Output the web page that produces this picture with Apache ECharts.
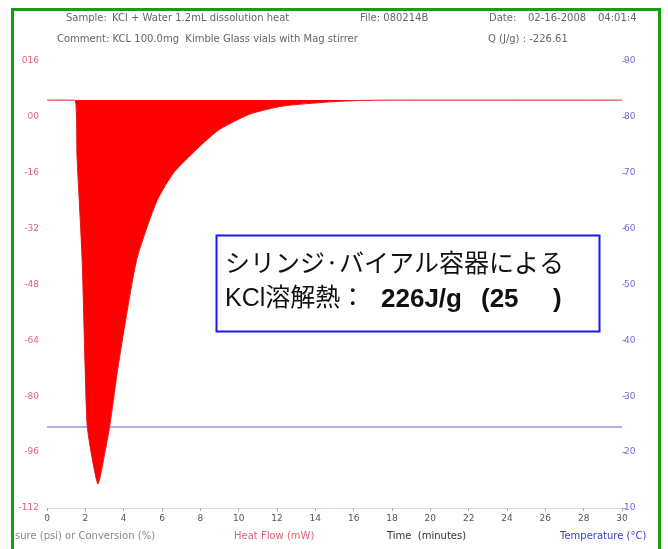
<!DOCTYPE html>
<html>
<head>
<meta charset="utf-8">
<script src="https://cdn.jsdelivr.net/npm/echarts@6/dist/echarts.min.js"></script>
<style>
  html, body { margin: 0; padding: 0; background: #fff; }
  #chart { width: 668px; height: 549px; }
</style>
</head>
<body>
<div id="chart"></div>
<script>
// Heat flow trace of the KCl dissolution run (time in minutes, heat flow in mW)
const timeMin = [0, 1.46, 1.57, 1.83, 2.09, 2.35, 2.66, 2.97, 3.29, 3.65, 4.07, 4.70, 5.74, 6.68, 8.87, 10.59, 12.31, 14.77, 16.3, 18, 20, 22, 24, 26, 28, 30];
const heatFlow = [4.8, 4.8, -11.8, -40.4, -87.9, -97.6, -105.1, -97.6, -87.9, -73.7, -59.3, -40.4, -24.0, -15.5, -4.1, 0.8, 3.1, 4.3, 4.7, 4.8, 4.8, 4.8, 4.8, 4.8, 4.8, 4.8];
const flowBaseline = 4.8;

// Bath temperature (°C) over the same time span
const tempTime = [0, 30];
const temperature = [24.5, 24.5];

// Tick labels
const timeTicks = [0, 2, 4, 6, 8, 10, 12, 14, 16, 18, 20, 22, 24, 26, 28, 30];
const flowTickValues = [-112, -96, -80, -64, -48, -32, -16, 0, 16];
const flowTickLabels = ['-112', '-96', '-80', '-64', '-48', '-32', '-16', '00', '016'];
const tempTickValues = [10, 20, 30, 40, 50, 60, 70, 80, 90];

const flowData = timeMin.map((t, i) => [t, heatFlow[i]]);
const tempData = tempTime.map((t, i) => [t, temperature[i]]);

const chart = echarts.init(document.getElementById('chart'), null, { renderer: 'canvas' });

const hdr = { fill: '#666', fontSize: 10, fontFamily: 'DejaVu Sans' };
function txt(x, y, s, extra) {
  return { type: 'text', left: x, top: y, z: 50, silent: true,
    style: Object.assign({ text: s }, hdr, extra || {}) };
}

chart.setOption({
  animation: false,
  backgroundColor: '#fff',
  grid: { left: 47, right: 46, top: 61, bottom: 41 },
  xAxis: {
    type: 'value', min: 0, max: 30, interval: 2,
    axisLine: { show: true, onZero: false, lineStyle: { color: '#ddd', width: 1 } },
    axisTick: { show: true, length: 3, lineStyle: { color: '#aaa' } },
    splitLine: { show: false },
    axisLabel: { color: '#555', fontSize: 9, fontFamily: 'DejaVu Sans', margin: 6,
      formatter: v => timeTicks.includes(v) ? String(v) : '' }
  },
  yAxis: [
    {
      type: 'value', min: -112, max: 16, interval: 16, position: 'left',
      axisLine: { show: false }, axisTick: { show: false }, splitLine: { show: false },
      axisLabel: { color: '#e4607c', fontSize: 9, fontFamily: 'DejaVu Sans', margin: 8,
        formatter: v => { const i = flowTickValues.indexOf(v); return i >= 0 ? flowTickLabels[i] : ''; } }
    },
    {
      type: 'value', min: 10, max: 90, interval: 10, position: 'right',
      axisLine: { show: false },
      axisTick: { show: true, length: 4, lineStyle: { color: '#9a9ae6' } },
      splitLine: { show: false },
      axisLabel: { color: '#6c6cdc', fontSize: 9, fontFamily: 'DejaVu Sans', margin: 2,
        formatter: v => tempTickValues.includes(v) ? String(v) : '' }
    }
  ],
  series: [
    {
      name: 'Temperature', type: 'line', yAxisIndex: 1, data: tempData,
      symbol: 'none', lineStyle: { color: '#9494e4', width: 1.5 }, z: 2
    },
    {
      name: 'Heat Flow', type: 'line', yAxisIndex: 0, data: flowData,
      symbol: 'none', smooth: 0.2,
      lineStyle: { color: '#e81818', width: 1 },
      areaStyle: { color: '#ff0000', opacity: 1, origin: flowBaseline }, z: 3
    }
  ],
  graphic: [
    // run information header
    txt(66, 13, 'Sample:'),
    txt(112, 13, 'KCl + Water 1.2mL dissolution heat'),
    txt(360, 13, 'File: 080214B'),
    txt(489, 13, 'Date:'),
    txt(528, 13, '02-16-2008'),
    txt(598, 13, '04:01:4'),
    txt(57, 34, 'Comment: KCL 100.0mg  Kimble Glass vials with Mag stirrer'),
    txt(488, 34, 'Q (J/g) : -226.61'),
    // axis titles along the bottom
    txt(15, 531, 'sure (psi) or Conversion (%)', { fill: '#888' }),
    txt(234, 531, 'Heat Flow (mW)', { fill: '#e4607c' }),
    txt(387, 531, 'Time  (minutes)', { fill: '#333' }),
    txt(560, 531, 'Temperature (°C)', { fill: '#3a3ad0' }),
    // result annotation
    { type: 'rect', z: 60, silent: true,
      shape: { x: 216.5, y: 235.5, width: 383, height: 96 },
      style: { fill: '#fff', stroke: '#1a1aee', lineWidth: 2 } },
    { type: 'text', z: 61, left: 225, top: 250, silent: true,
      style: { text: 'シリンジ·バイアル容器による', fill: '#111', fontSize: 25,
        fontFamily: '"Noto Sans CJK JP", sans-serif' } },
    { type: 'text', z: 61, left: 225, top: 287, silent: true,
      style: { text: 'KCl溶解熱：', fill: '#111', fontSize: 25,
        fontFamily: '"Liberation Sans", "Noto Sans CJK JP", sans-serif' } },
    { type: 'text', z: 61, left: 381, top: 287, silent: true,
      style: { text: '226J/g', fill: '#111', fontSize: 26, fontWeight: 'bold',
        fontFamily: '"Liberation Sans", sans-serif' } },
    { type: 'text', z: 61, left: 481, top: 287, silent: true,
      style: { text: '(25', fill: '#111', fontSize: 26, fontWeight: 'bold',
        fontFamily: '"Liberation Sans", sans-serif' } },
    { type: 'text', z: 61, left: 553, top: 287, silent: true,
      style: { text: ')', fill: '#111', fontSize: 26, fontWeight: 'bold',
        fontFamily: '"Liberation Sans", sans-serif' } },
    // green frame
    { type: 'rect', z: 100, silent: true,
      shape: { x: 12.5, y: 9.5, width: 647, height: 580 },
      style: { fill: 'none', stroke: '#14a014', lineWidth: 3 } }
  ]
});
</script>
</body>
</html>
